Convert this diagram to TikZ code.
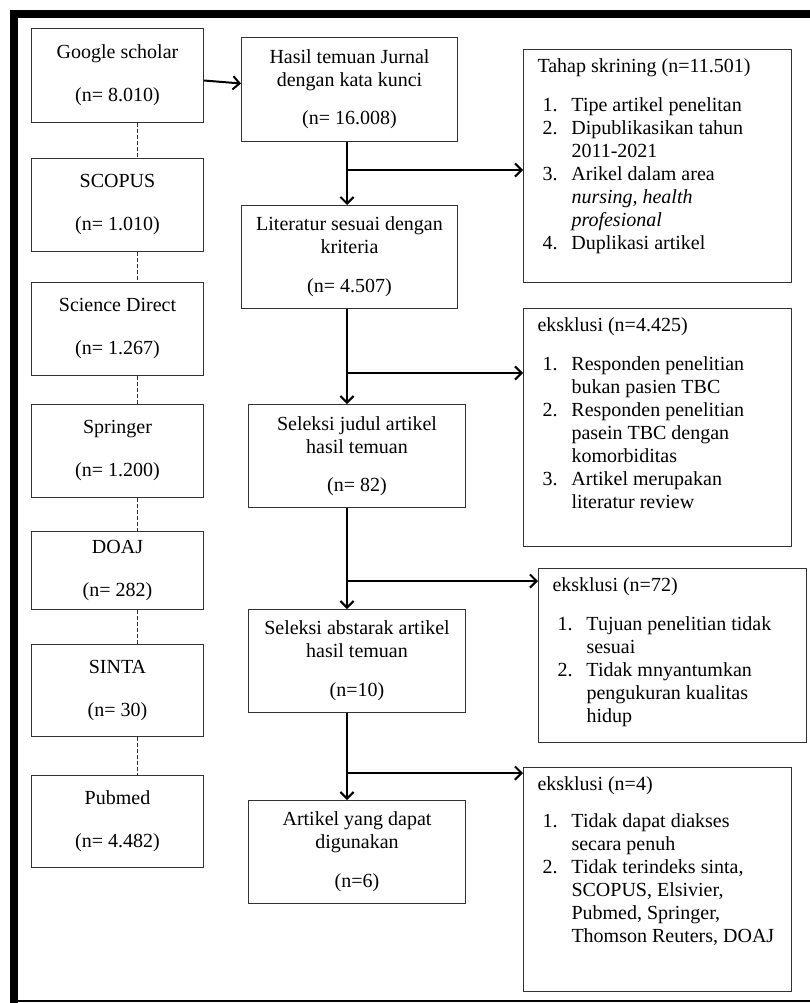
\documentclass[tikz,border=0pt]{standalone}
\usepackage{fontspec}
\setmainfont{Liberation Serif}
\usetikzlibrary{arrows.meta, positioning, calc}

% numbered line with hanging indent
\newcommand{\itm}[2]{\par\hangindent=25.5pt\hangafter=1\noindent\hspace*{3.75pt}\makebox[21.75pt][l]{#1}#2}
\newcommand{\exclbody}[2]{\parbox[c][#1][t]{180pt}{#2}}

\tikzset{
  txt/.style={font=\fontsize{15}{17.25}\selectfont},
  srcbox/.style={txt, draw=black!80, line width=0.75pt, anchor=north west, inner sep=0pt,
    minimum width=129pt, align=center},
  stagebox/.style={txt, draw=black!80, line width=0.75pt, anchor=north west, inner sep=0pt,
    minimum width=162pt, minimum height=77.25pt, align=center},
  exclbox/.style={txt, draw=black!80, line width=0.75pt, anchor=north west,
    inner xsep=10.5pt, inner ysep=6.5pt},
  flow/.style={-{Straight Barb[length=5pt,width=10pt]}, line width=1.5pt},
  link/.style={draw=black!80, line width=0.75pt, dash pattern=on 3pt off 1.5pt}
}

\begin{document}
\begin{tikzpicture}[x=0.75pt, y=-0.75pt]
    \useasboundingbox (0,0) rectangle (810,1003);

    % Frame
    \fill[black] (10,10) rectangle (810,18);
    \fill[black] (10,10) rectangle (18,1003);
    \draw[line width=1.5pt] (18,1001) -- (810,1001);

    % Databases
    \node[srcbox, minimum height=70.5pt] (scholar) at (31,28) {Google scholar\\[15pt](n= 8.010)};
    \node[srcbox, minimum height=69.75pt] (scopus) at (31,158) {SCOPUS\\[15pt](n= 1.010)};
    \node[srcbox, minimum height=69.75pt] (scidirect) at (31,282) {Science Direct\\[15pt](n= 1.267)};
    \node[srcbox, minimum height=69.75pt] (springer) at (31,404) {Springer\\[15pt](n= 1.200)};
    \node[srcbox, minimum height=58.5pt] (doaj) at (31,531) {DOAJ\\[15pt](n= 282)};
    \node[srcbox, minimum height=69pt] (sinta) at (31,644) {SINTA\\[15pt](n= 30)};
    \node[srcbox, minimum height=69pt] (pubmed) at (31,775) {Pubmed\\[15pt](n= 4.482)};

    \coordinate (dl) at (137,0);
    \foreach \a/\b in {scholar/scopus, scopus/scidirect, scidirect/springer, springer/doaj, doaj/sinta, sinta/pubmed} {
      \draw[link] (\a.south -| dl) -- (\b.north -| dl);
    }

    % Stages
    \node[stagebox, minimum height=78pt] (hasil) at (241,37) {Hasil temuan Jurnal\\dengan kata kunci\\[11pt](n= 16.008)};
    \node[stagebox] (kriteria) at (241,205) {Literatur sesuai dengan\\kriteria\\[12pt](n= 4.507)};
    \node[stagebox, minimum width=162.75pt] (judul) at (248,404) {Seleksi judul artikel\\hasil temuan\\[11pt](n= 82)};
    \node[stagebox, minimum width=162.75pt] (abstrak) at (248,609) {Seleksi abstarak artikel\\hasil temuan\\[12pt](n=10)};
    \node[stagebox, minimum width=162.75pt] (artikel) at (248,800) {Artikel yang dapat\\digunakan\\[12pt](n=6)};

    % Exclusions
    \node[exclbox] (skrining) at (523,49) {\exclbody{161.75pt}{Tahap skrining (n=11.501)\par\vspace{12pt}
      \itm{1.}{Tipe artikel penelitan}
      \itm{2.}{Dipublikasikan tahun\\2011-2021}
      \itm{3.}{Arikel dalam area\\\textit{nursing, health}\\\textit{profesional}}
      \itm{4.}{Duplikasi artikel}}};
    \node[exclbox] (eks1) at (523,308) {\exclbody{165.5pt}{eksklusi (n=4.425)\par\vspace{12pt}
      \itm{1.}{Responden penelitian\\bukan pasien TBC}
      \itm{2.}{Responden penelitian\\pasein TBC dengan\\komorbiditas}
      \itm{3.}{Artikel merupakan\\literatur review}}};
    \node[exclbox] (eks2) at (538,568) {\exclbody{117.5pt}{eksklusi (n=72)\par\vspace{12pt}
      \itm{1.}{Tujuan penelitian tidak\\sesuai}
      \itm{2.}{Tidak mnyantumkan\\pengukuran kualitas\\hidup}}};
    \node[exclbox] (eks3) at (523,767) {\exclbody{155pt}{eksklusi (n=4)\par\vspace{11pt}
      \itm{1.}{Tidak dapat diakses\\secara penuh}
      \itm{2.}{Tidak terindeks sinta,\\SCOPUS, Elsivier,\\Pubmed, Springer,\\Thomson Reuters, DOAJ}}};

    % Arrows
    \draw[flow] ([yshift=-3.75pt]scholar.east) -- ([yshift=4.5pt]hasil.west);
    \coordinate (spine) at (347,0);
    \foreach \a/\b in {hasil/kriteria, kriteria/judul, judul/abstrak, abstrak/artikel} {
      \draw[flow] (\a.south -| spine) -- (\b.north -| spine);
    }
    \foreach \y/\t [count=\i] in {170/skrining, 373/eks1, 581/eks2, 773/eks3} {
      \coordinate (br\i) at (347,\y);
      \draw[flow] (br\i) -- (br\i -| \t.west);
    }

\end{tikzpicture}
\end{document}
